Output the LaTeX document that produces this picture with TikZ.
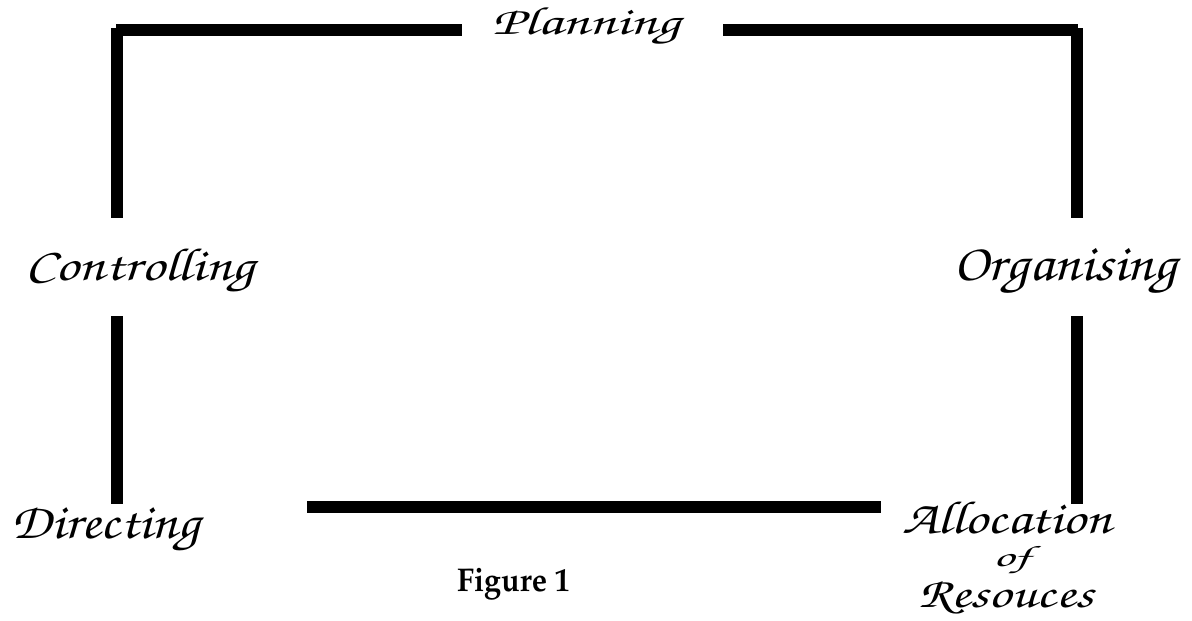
\documentclass[tikz,border=0pt]{standalone}
\usepackage[T1,TU]{fontenc}
\usepackage{graphicx}
\newcommand\scrfont{\fontencoding{T1}\fontfamily{pzc}\fontseries{mb}\fontshape{it}\selectfont}
\newcommand\capfont{\fontencoding{T1}\fontfamily{ppl}\fontseries{b}\fontshape{n}\selectfont}
\tikzset{
  bar/.style={line width=12pt, line cap=butt, black},
  lbl/.style={anchor=base west, inner sep=0pt, outer sep=0pt},
}
\begin{document}
\begin{tikzpicture}[x=1pt,y=-1pt]
\useasboundingbox (0,0) rectangle (1192,621);
% labels
\node[lbl] (plan) at (492,34) {\resizebox{188pt}{28pt}{\scrfont Planning}};
\node[lbl] (ctrl) at (26,280) {\resizebox{229pt}{33pt}{\scrfont Controlling}};
\node[lbl] (org) at (953,280) {\resizebox{224pt}{32pt}{\scrfont Organising}};
\node[lbl] (dir) at (12,538) {\resizebox{188pt}{33pt}{\scrfont Directing}};
\node[lbl] (alloc) at (902,533) {\resizebox{210pt}{33pt}{\scrfont Allocation}};
\node[lbl] (of) at (993,566) {\resizebox{37pt}{21pt}{\scrfont of}};
\node[lbl] (res) at (918,607) {\resizebox{175pt}{28pt}{\scrfont Resouces}};
\node[lbl] (fig) at (457,591) {\resizebox{113pt}{23pt}{\capfont Figure 1}};
% bars
\draw[bar] (116,29.5) -- (462,29.5);
\draw[bar] (117,28) -- (117,218);
\draw[bar] (723,29.5) -- (1078,29.5);
\draw[bar] (1077,28) -- (1077,218);
\draw[bar] (117,316) -- (117,504);
\draw[bar] (1077,316) -- (1077,504);
\draw[bar] (307,507) -- (881,507);
\end{tikzpicture}
\end{document}
